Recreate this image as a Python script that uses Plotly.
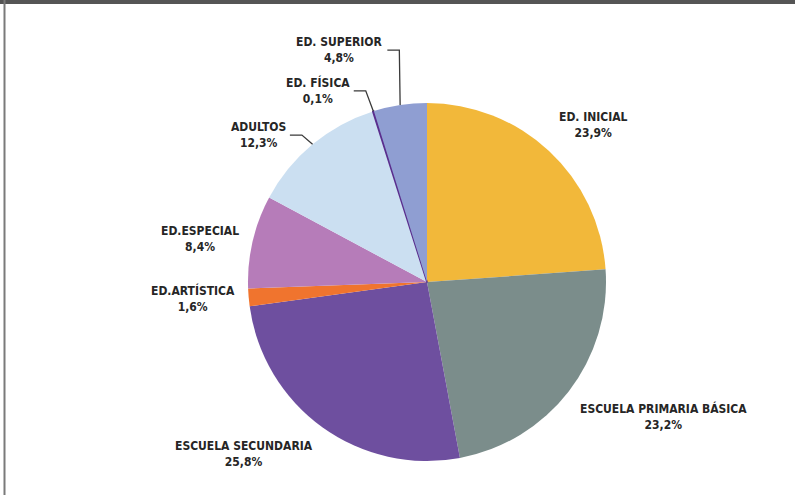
import math
import plotly.graph_objects as go

# ---- data ----
labels = ["ED. INICIAL", "ESCUELA PRIMARIA BÁSICA", "ESCUELA SECUNDARIA", "ED.ARTÍSTICA",
          "ED.ESPECIAL", "ADULTOS", "ED. FÍSICA", "ED. SUPERIOR"]
values = [23.9, 23.2, 25.8, 1.6, 8.4, 12.3, 0.1, 4.8]
colors = ["#F2B83A", "#7B8D8B", "#6E4F9F", "#F0742E", "#B67CB9", "#CBDFF1", "#5A2E8E", "#8F9ED2"]

# ---- layout / style ----
W, H = 795, 495
CX, CY, R = 427, 282, 179
GAP = 12
FONT = "Liberation Sans Narrow, Arial Narrow, DejaVu Sans Condensed, sans-serif"
# label nudges (px) and anchor overrides for crowded labels, with leader lines
nudge = {
    "ADULTOS": (-17, 0, "right", "middle"),
    "ED. FÍSICA": (-18, -9, "right", "middle"),
    "ED. SUPERIOR": (-13, -43, "right", "middle"),
}
# outline only the very thin slice so it stays visible
line_widths = [1.6 if v < 0.5 else 0 for v in values]

def px2paper(x, y):
    return x / W, 1 - y / H

fig = go.Figure(go.Pie(
    labels=labels, values=values, sort=False, direction="clockwise",
    marker=dict(colors=colors, line=dict(width=line_widths, color=colors)),
    textinfo="none", hoverinfo="label+percent", showlegend=False,
    domain=dict(x=[(CX - R) / W, (CX + R) / W], y=[1 - (CY + R) / H, 1 - (CY - R) / H]),
))

total = sum(values)
cum = 0.0
annotations = []
shapes = []
for lab, v in zip(labels, values):
    mid = (cum + v / 2) / total * 2 * math.pi
    cum += v
    s, c = math.sin(mid), math.cos(mid)
    px = CX + (R + GAP) * s
    py = CY - (R + GAP) * c
    xa = "left" if s > 0.3 else ("right" if s < -0.3 else "center")
    ya = "bottom" if c > 0.3 else ("top" if c < -0.3 else "middle")
    if lab in nudge:
        dx, dy, xa, ya = nudge[lab]
        px += dx
        py += dy
        # leader line: label -> elbow -> slice edge
        ex, ey = CX + R * s, CY - R * c
        x0 = px + 2
        x1 = x0 + 12
        pts = [(x0, py), (x1, py), (ex, ey)]
        path = "M " + " L ".join("%f,%f" % px2paper(a, b) for a, b in pts)
        shapes.append(dict(type="path", xref="paper", yref="paper", path=path,
                           line=dict(color="#3a3a3a", width=1.3)))
    ax, ay = px2paper(px, py)
    txt = "<b>%s</b><br><b>%s%%</b>" % (lab, ("%.1f" % v).replace(".", ","))
    annotations.append(dict(x=ax, y=ay, xref="paper", yref="paper", text=txt,
                            showarrow=False, xanchor=xa, yanchor=ya, align="center",
                            font=dict(family=FONT, size=12, color="#262626")))

# frame (top band and left rule)
shapes.append(dict(type="rect", xref="paper", yref="paper", x0=0, x1=1, y0=1 - 4 / H, y1=1,
                   fillcolor="#555555", line=dict(width=0)))
shapes.append(dict(type="line", xref="paper", yref="paper", x0=4.5 / W, x1=4.5 / W, y0=0, y1=1,
                   line=dict(color="#7a7a7a", width=2)))

fig.update_layout(
    width=W, height=H, margin=dict(l=0, r=0, t=0, b=0),
    paper_bgcolor="white", plot_bgcolor="white",
    annotations=annotations, shapes=shapes,
)
fig.write_html("out.html")
